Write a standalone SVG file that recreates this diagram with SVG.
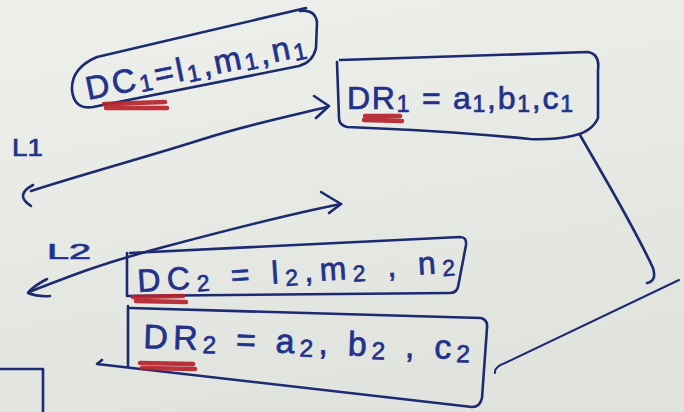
<svg xmlns="http://www.w3.org/2000/svg" width="684" height="412" viewBox="0 0 684 412">
  <defs>
    <linearGradient id="bg" x1="0" y1="0" x2="0.3" y2="1">
      <stop offset="0" stop-color="#eef0ec"/>
      <stop offset="1" stop-color="#e1e3df"/>
    </linearGradient>
    <style>
      .ink{fill:none;stroke:#1c2a70;stroke-width:2.6;stroke-linecap:round;stroke-linejoin:round}
      .thin{stroke-width:2}
      .txt{font-family:"Liberation Sans","DejaVu Sans",sans-serif;fill:#22328c;stroke:#22328c;stroke-width:0.7}
      .sub{font-size:0.72em;baseline-shift:-3px}
      .red{fill:none;stroke:#b5222a;stroke-width:4.5;stroke-linecap:round;opacity:.92}
    </style>
  </defs>
  <rect width="684" height="412" fill="url(#bg)"/>

  <g id="connectors">
    <!-- L1 double arrow -->
    <path class="ink" d="M327,107 C290,116 250,124 200,140 S80,175 31,191"/>
    <path class="ink" d="M314,96 L329,106 L316,118"/>
    <path class="ink" d="M33,185 Q14,195 31,206"/>
    <text class="txt" x="12" y="156" font-size="24" textLength="31" lengthAdjust="spacingAndGlyphs">L1</text>
    <!-- L2 double arrow -->
    <path class="ink" d="M341,204 C290,214 220,232 160,248 S70,276 29,292"/>
    <path class="ink" d="M321,192 L341,204 L329,213"/>
    <path class="ink" d="M47,279 Q32,287 28,293 Q38,297 50,296"/>
    <text class="txt" x="47" y="259" font-size="22" textLength="44" lengthAdjust="spacingAndGlyphs">L2</text>
    <!-- DR1 to DR2 bracket -->
    <path class="ink" d="M580,135 L610,187 Q640,240 653,268 Q657,281 647,283"/>
    <path class="ink thin" d="M679,280 L505,363 Q494,367 495,373"/>
  </g>

  <g id="dc1">
    <path class="ink" d="M97,57 L306,8 M300,11 Q315,9 317,22 L316,48 Q313,62 299,66 L93,107 Q74,110 72,90 Q71,68 97,57"/>
    <text class="txt" transform="translate(88,100) rotate(-11.5)" font-size="33" textLength="224" lengthAdjust="spacing">DC<tspan class="sub">1</tspan>=l<tspan class="sub">1</tspan>,m<tspan class="sub">1</tspan>,n<tspan class="sub">1</tspan></text>
    <path class="red" d="M104,104 L165,102 M106,108 L167,108"/>
  </g>

  <g id="dr1">
    <path class="ink" d="M340,60 L588,52 Q600,54 598,70 L598,118 Q592,132 572,136 Q552,140 530,139 Q450,131 347,127 Q339,125 339,118 L337,62"/>
    <text class="txt" x="347" y="109" font-size="32" textLength="226" lengthAdjust="spacing">DR<tspan class="sub">1</tspan> = a<tspan class="sub">1</tspan>,b<tspan class="sub">1</tspan>,c<tspan class="sub">1</tspan></text>
    <path class="red" d="M365,116 L400,116 M364,120 L402,121"/>
  </g>

  <g id="dc2">
    <path class="ink" d="M130,253 L460,237 Q467,237 466,245 L458,287 Q456,293 450,293 L127,296 L127,253"/>
    <text class="txt" transform="translate(138,292) rotate(-3.5)" font-size="32" textLength="318" lengthAdjust="spacing">DC<tspan class="sub">2</tspan> = l<tspan class="sub">2</tspan>,m<tspan class="sub">2</tspan> , n<tspan class="sub">2</tspan></text>
    <path class="red" d="M133,297 L183,296 M136,301 L186,302"/>
  </g>

  <g id="dr2">
    <path class="ink" d="M128,306 L128,367 M130,308 L481,318 Q488,320 487,328 L482,398 Q480,407 472,407 L97,364 L102,360"/>
    <text class="txt" transform="translate(143,348) rotate(2)" font-size="34" textLength="327" lengthAdjust="spacing">DR<tspan class="sub">2</tspan> = a<tspan class="sub">2</tspan>, b<tspan class="sub">2</tspan> , c<tspan class="sub">2</tspan></text>
    <path class="red" d="M140,363 L193,364 M142,368 L195,369"/>
  </g>

  <path class="ink" d="M0,369 L43,369 L43,412"/>
</svg>
